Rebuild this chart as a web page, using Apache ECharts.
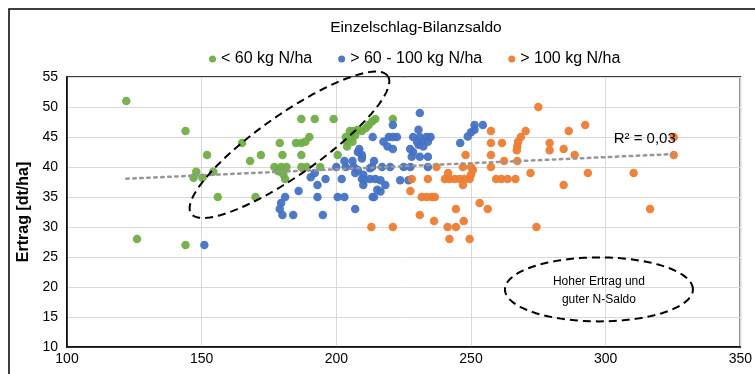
<!DOCTYPE html>
<html>
<head>
<meta charset="utf-8">
<script src="https://cdn.jsdelivr.net/npm/echarts@6/dist/echarts.min.js"></script>
<style>html,body{margin:0;padding:0;background:#fff}#c{width:755px;height:374px}</style>
</head>
<body>
<div id="c"></div>
<script>
// ---- data ----
var seriesNames = ['< 60 kg N/ha', '> 60 - 100 kg N/ha', '> 100 kg N/ha'];
var xTicks = [100, 150, 200, 250, 300, 350];
var yTicks = [10, 15, 20, 25, 30, 35, 40, 45, 50, 55];

var green = [
  [122,51],[126,28],[144,46],[144,27],[147,38.2],[148,39.2],[150.3,38.2],[152,42],[154.3,39.2],[156,35],
  [165,44],[168,41],[170,35],[172,42],
  [177,40],[179.5,40],[181.5,40],[178.5,39.3],[180.3,38.8],[181,38],[179,44],[180,42],
  [185,44],[187,44],[188.5,44.2],[190,45],[187,42],[187,40],[189,40],[194,40],[200.5,42],
  [187,48],[192,48],[199,48],
  [203.5,45],[205,46],[206.5,46],[208,46.2],[205.5,45],[207,45.3],[209.5,46],[204,44.2],[206,44.2],
  [204,43.4],[211,46.5],[212,47],[213.3,47.6],[214.5,48],[221,48]
];
var blue = [
  [151,27],[179,33],[179.5,34],[180,32],[181,35],[184,32],[186,36],[190.5,38.3],[192,39],[193,37],
  [193,35],[195,32],[196,38],[200.5,35],[203,35],[207,33],
  [200,40],[203.5,40],[203,41],[206,41],[202,38],[207,39],[206.5,40],[208,39.5],[209.5,38],[210,37],
  [210,38.7],[212.5,39.8],[212.5,38],[208.5,43],[208,42.5],[209.5,42],[209.5,41.4],[213.5,35],[213.5,45],[214,41],
  [213.3,40],[217,40],[220,40],[225,40],[227.5,40],[234,40],[210.3,37.8],[214.5,38],[216.4,37.8],[218.2,37],
  [223.7,37.8],[226.8,37.8],[215.2,36.2],[216.4,35.9],[214,35],
  [231,49],[221,47],[219.5,45],[221,45],[222.5,45],[230.5,46.2],[228.5,45],[231,45],[233.5,45],[235,45],
  [230,44.2],[231.7,44.2],[234,44.2],[230.5,43.7],[232.3,43.4],[217.5,44.2],[219,43.4],[221,43],[227.4,43],
  [228.5,42.5],[228,41.7],[231,41.7],[234,41.7],
  [246,44],[248.8,45.1],[250,45.8],[251.3,46.2],[251.3,47],[254.4,47]
];
var orange = [
  [213,30],[221,30],[227.5,36],[228,38],[234,38],[231.7,35],[233.5,35],[235.4,35],[236.6,35],[231,32],
  [236.3,31],[237.2,40],[241.3,30],[244.4,30],[242,28],[249.5,28],[244.4,33],[247.3,31],[253.2,34],[256.2,33],
  [240.3,38],[242,38],[244,38],[245.8,38],[247.6,38],[249.5,38],[241.5,39],[250,38.7],[250.7,39.5],[247,37],
  [248,42],[247,40],[250,40],[257.4,40],[257.4,42],[257.4,44],[261.5,44],[257.4,46],[262.3,41],[267.2,41],
  [259.3,38],[261.3,38],[263.6,38],[266.5,38],[272.1,39],
  [270.3,46],[268.5,45],[267.5,44.2],[267.2,43.4],[267,42.8],[275,50],[274.3,30],[279.2,44],[279.2,42.8],
  [284.4,43],[286.3,46],[284.4,37],[288.5,42],[292.4,47],[293.4,39],[310.4,39],[316.5,33],[325.3,45],[325.3,42]
];
var trendX = [122, 325];
var trendY = [38.05, 42.15];
var r2Label = 'R\u00B2 = 0,03';
var legendTitle = 'Einzelschlag-Bilanzsaldo';
var noteLines = ['Hoher Ertrag und', 'guter N-Saldo'];

var FONT = "'Liberation Sans', Arial, sans-serif";
var colors = ['#70ad47', '#4472c4', '#ed7d31'];

var chart = echarts.init(document.getElementById('c'), null, {renderer: 'canvas'});

var trendData = trendX.map(function (x, i) { return [x, trendY[i]]; });

var option = {
  animation: false,
  backgroundColor: '#fff',
  legend: {
    data: seriesNames.map(function (n) { return {name: n, icon: 'circle'}; }),
    left: 204, top: 46,
    itemWidth: 7, itemHeight: 7, itemGap: 26,
    textStyle: {fontFamily: FONT, fontSize: 16, color: '#000'}
  },
  grid: {left: 67, right: 8, top: 77, bottom: 27, show: true, borderColor: '#000', borderWidth: 1.5, backgroundColor: 'transparent'},
  xAxis: {
    type: 'value', min: xTicks[0], max: xTicks[xTicks.length - 1], interval: 50,
    axisLine: {show: true, lineStyle: {color: '#000', width: 1.5}},
    axisTick: {show: false},
    splitLine: {show: true, lineStyle: {color: '#d9d9d9', width: 1}},
    axisLabel: {fontFamily: FONT, fontSize: 14, color: '#000', margin: 5}
  },
  yAxis: {
    type: 'value', min: yTicks[0], max: yTicks[yTicks.length - 1], interval: 5,
    name: 'Ertrag [dt/ha]', nameLocation: 'middle', nameGap: 32,
    nameTextStyle: {fontFamily: FONT, fontSize: 16, fontWeight: 'bold', color: '#000'},
    axisLine: {show: true, lineStyle: {color: '#000', width: 1.5}},
    axisTick: {show: false},
    splitLine: {show: true, lineStyle: {color: '#d9d9d9', width: 1}},
    axisLabel: {fontFamily: FONT, fontSize: 14, color: '#000', margin: 9}
  },
  series: [
    {name: seriesNames[0], type: 'scatter', data: green, symbolSize: 8.5, itemStyle: {color: colors[0], opacity: 0.95}, z: 3},
    {name: seriesNames[1], type: 'scatter', data: blue, symbolSize: 8.5, itemStyle: {color: colors[1], opacity: 0.95}, z: 3},
    {name: seriesNames[2], type: 'scatter', data: orange, symbolSize: 8.5, itemStyle: {color: colors[2], opacity: 0.95}, z: 3},
    {name: 'Trend', type: 'line', data: trendData, symbol: 'none', silent: true,
     lineStyle: {color: '#969696', width: 2.5, type: [2.5, 4.5], cap: 'round'}, z: 4}
  ]
};
chart.setOption(option);

function ellipsePoints(c, a, b, deg) {
  var th = deg * Math.PI / 180, pts = [];
  for (var i = 0; i < 120; i++) {
    var t = i / 120 * Math.PI * 2;
    var ex = a * Math.cos(t), ey = b * Math.sin(t);
    pts.push([c[0] + ex * Math.cos(th) - ey * Math.sin(th), c[1] - (ex * Math.sin(th) + ey * Math.cos(th))]);
  }
  return pts;
}
var c1 = chart.convertToPixel({gridIndex: 0}, [182.6, 43.7]);
var c2 = chart.convertToPixel({gridIndex: 0}, [297.5, 19.6]);
var r2p = chart.convertToPixel({gridIndex: 0}, [314.5, 44.7]);
var dash = {stroke: '#000', fill: 'none', lineWidth: 2, lineDash: [8, 5]};

chart.setOption({
  graphic: [
    {type: 'rect', shape: {x: 9, y: 9, width: 800, height: 400}, style: {stroke: '#000', fill: 'none', lineWidth: 1.5}, silent: true, z: 0},
    {type: 'text', x: 416, y: 28, style: {text: legendTitle, font: '15.5px ' + FONT, fill: '#000', align: 'center', verticalAlign: 'middle', textAlign: 'center', textVerticalAlign: 'middle'}, z: 10},
    {type: 'polygon', shape: {points: ellipsePoints(c1, 120, 30.5, 35)}, style: dash, silent: true, z: 10},
    {type: 'polygon', shape: {points: ellipsePoints(c2, 94, 32, 0)}, style: dash, silent: true, z: 10},
    {type: 'text', x: c2[0], y: c2[1] - 8, style: {text: noteLines[0], font: '12px ' + FONT, fill: '#000', align: 'center', verticalAlign: 'middle', textAlign: 'center', textVerticalAlign: 'middle'}, z: 10},
    {type: 'text', x: c2[0], y: c2[1] + 10, style: {text: noteLines[1], font: '12px ' + FONT, fill: '#000', align: 'center', verticalAlign: 'middle', textAlign: 'center', textVerticalAlign: 'middle'}, z: 10},
    {type: 'text', x: r2p[0], y: r2p[1], style: {text: r2Label, font: '15px ' + FONT, fill: '#000', align: 'center', verticalAlign: 'middle', textAlign: 'center', textVerticalAlign: 'middle'}, z: 10}
  ]
});
</script>
</body>
</html>
